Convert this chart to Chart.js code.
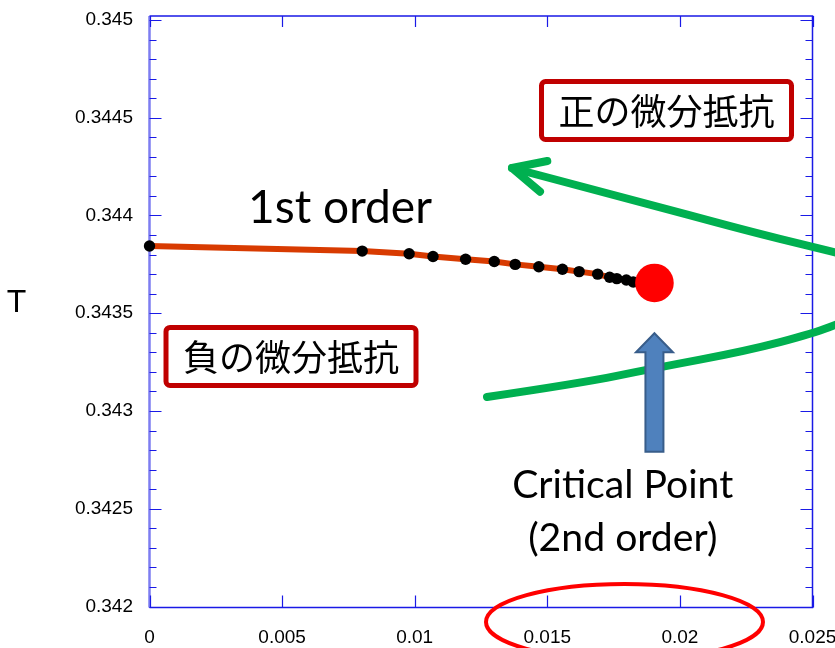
<!DOCTYPE html>
<html>
<head>
<meta charset="utf-8">
<script src="https://cdn.jsdelivr.net/npm/chart.js@4.4.1/dist/chart.umd.min.js"></script>
<style>
  html, body { margin: 0; padding: 0; background: #ffffff; }
  canvas { display: block; }
</style>
</head>
<body>
<canvas id="chart" width="835" height="648"></canvas>
<script>
// First-order transition branch: horizontal position and T of each measured point
const hValues = [0, 0.00802, 0.00979, 0.01069, 0.01192, 0.0130, 0.01379, 0.01468,
                 0.01557, 0.0162, 0.0169, 0.01735, 0.01762, 0.01798, 0.01824];
const tValues = [0.343844, 0.343818, 0.343804, 0.343790, 0.343776, 0.343765, 0.343750, 0.343738,
                 0.343725, 0.343713, 0.343700, 0.343684, 0.343677, 0.343670, 0.343660];

// Critical point (end of the first-order line, second-order transition)
const criticalH = [0.01904];
const criticalT = [0.343655];

// Axis ticks
const xTickValues = [0, 0.005, 0.01, 0.015, 0.02, 0.025];
const xTickLabels = ['0', '0.005', '0.01', '0.015', '0.02', '0.025'];
const yTickValues = [0.342, 0.3425, 0.343, 0.3435, 0.344, 0.3445, 0.345];
const yTickLabels = ['0.342', '0.3425', '0.343', '0.3435', '0.344', '0.3445', '0.345'];
const yMinorPerMajor = 5;

// Annotation anchors, in axis units (h, T)
const firstOrderLabel = { text: '1st order', at: [0.007183, 0.343960], width: 184 };
const criticalLabel = { lines: ['Critical Point', '(2nd order)'], h: 0.017845, baselines: [0.342553, 0.342285], width: 221 };
const negativeBox = { text: '負の微分抵抗', at: [0.005336, 0.343279] };
const positiveBox = { text: '正の微分抵抗', at: [0.019495, 0.344537] };
const lowerBranch = [[0.012726, 0.343072], [0.016233, 0.343142], [0.018997, 0.343218],
                     [0.022519, 0.343308], [0.025030, 0.343397], [0.026226, 0.343460]];
const upperBranch = [[0.013669, 0.344243], [0.018118, 0.344084], [0.022519, 0.343922],
                     [0.025019, 0.343839], [0.026226, 0.343798]];
const arrowWings = [[0.015000, 0.344279], [0.014725, 0.344122]];
const pointerArrowT = { tip: 0.343398, head: 0.343300, tail: 0.342792 };
const ellipseCenter = [0.017911, 0.341921];

const lineSeries = hValues.map((h, i) => ({ x: h, y: tValues[i] }))
  .concat([{ x: criticalH[0], y: criticalT[0] }]);
const markerSeries = hValues.map((h, i) => ({ x: h, y: tValues[i] }));
const criticalSeries = criticalH.map((h, i) => ({ x: h, y: criticalT[i] }));

const AXIS_BLUE = '#1a1ae6';
const TICK_FONT = { family: "'Liberation Sans', Arial, sans-serif", size: 19 };

// Box frame and inward tick marks on all four sides
const framePlugin = {
  id: 'frame',
  beforeDatasetsDraw(chart) {
    const { ctx, chartArea: { left, right, top, bottom } } = chart;
    const xs = chart.scales.x, ys = chart.scales.y;
    const frameTop = top - 4, frameBottom = bottom + 1;
    ctx.save();
    ctx.lineCap = 'butt';
    // frame: top, right, bottom
    ctx.strokeStyle = AXIS_BLUE;
    ctx.lineWidth = 1.5;
    ctx.beginPath();
    ctx.moveTo(left, frameTop); ctx.lineTo(right, frameTop);
    ctx.lineTo(right, frameBottom); ctx.lineTo(left, frameBottom);
    ctx.stroke();
    // left axis line
    ctx.strokeStyle = 'rgba(70,70,235,0.7)';
    ctx.lineWidth = 2.5;
    ctx.beginPath();
    ctx.moveTo(left, frameTop); ctx.lineTo(left, frameBottom);
    ctx.stroke();
    // y ticks (major + minor) on left and right axes
    ctx.strokeStyle = AXIS_BLUE;
    ctx.lineWidth = 1.2;
    const yMin = yTickValues[0];
    const yStep = (yTickValues[1] - yTickValues[0]) / yMinorPerMajor;
    const nMinor = (yTickValues.length - 1) * yMinorPerMajor;
    for (let k = 0; k <= nMinor; k++) {
      const py = Math.round(ys.getPixelForValue(yMin + k * yStep)) + 0.5;
      const len = k % yMinorPerMajor === 0 ? 12 : 7;
      ctx.beginPath();
      ctx.moveTo(left, py); ctx.lineTo(left + len, py);
      ctx.moveTo(right, py); ctx.lineTo(right - len, py);
      ctx.stroke();
    }
    // x ticks on bottom (pointing up) and top (pointing down)
    xTickValues.forEach(v => {
      const px = Math.round(xs.getPixelForValue(v)) + 0.5;
      ctx.beginPath();
      ctx.moveTo(px, frameBottom); ctx.lineTo(px, frameBottom - 12);
      ctx.moveTo(px, frameTop); ctx.lineTo(px, frameTop + 11);
      ctx.stroke();
    });
    // y axis title (upright)
    ctx.fillStyle = '#000';
    ctx.font = "32px 'Liberation Sans', Arial, sans-serif";
    ctx.textAlign = 'center';
    ctx.textBaseline = 'alphabetic';
    ctx.fillText('T', 16.5, (top + bottom) / 2 - 1);
    ctx.restore();
  }
};

function smoothPath(ctx, pts) {
  ctx.beginPath();
  ctx.moveTo(pts[0][0], pts[0][1]);
  for (let i = 1; i < pts.length - 1; i++) {
    const mx = (pts[i][0] + pts[i + 1][0]) / 2;
    const my = (pts[i][1] + pts[i + 1][1]) / 2;
    ctx.quadraticCurveTo(pts[i][0], pts[i][1], mx, my);
  }
  const last = pts[pts.length - 1];
  ctx.lineTo(last[0], last[1]);
}

function fittedFont(ctx, text, family, targetWidth) {
  ctx.font = `100px ${family}`;
  const w = ctx.measureText(text).width;
  return 100 * targetWidth / w;
}

function labelBox(ctx, cx, cy, text) {
  const w = 250, h = 58;
  ctx.save();
  ctx.beginPath();
  ctx.roundRect(cx - w / 2, cy - h / 2, w, h, 4);
  ctx.fillStyle = '#ffffff';
  ctx.fill();
  ctx.strokeStyle = '#c00000';
  ctx.lineWidth = 5;
  ctx.stroke();
  ctx.fillStyle = '#000';
  ctx.font = "36px 'Noto Sans CJK JP', sans-serif";
  ctx.textAlign = 'center';
  ctx.textBaseline = 'middle';
  ctx.fillText(text, cx, cy + 1);
  ctx.restore();
}

// Text labels, boxes and arrows placed through the axis scales
const notesPlugin = {
  id: 'notes',
  afterDraw(chart) {
    const { ctx } = chart;
    const xs = chart.scales.x, ys = chart.scales.y;
    const P = p => [xs.getPixelForValue(p[0]), ys.getPixelForValue(p[1])];
    const latin = "Lato, 'Open Sans', sans-serif";
    ctx.save();

    // "1st order"
    let size = fittedFont(ctx, firstOrderLabel.text, latin, firstOrderLabel.width);
    ctx.font = `${size}px ${latin}`;
    ctx.fillStyle = '#000';
    ctx.textAlign = 'center';
    ctx.textBaseline = 'alphabetic';
    const fo = P(firstOrderLabel.at);
    ctx.fillText(firstOrderLabel.text, fo[0], fo[1]);

    // "Critical Point (2nd order)"
    size = fittedFont(ctx, criticalLabel.lines[0], latin, criticalLabel.width);
    ctx.font = `${size}px ${latin}`;
    criticalLabel.lines.forEach((line, i) => {
      ctx.fillText(line, xs.getPixelForValue(criticalLabel.h), ys.getPixelForValue(criticalLabel.baselines[i]));
    });

    // boxed labels
    labelBox(ctx, ...P(negativeBox.at), negativeBox.text);
    labelBox(ctx, ...P(positiveBox.at), positiveBox.text);

    // green curved arrow
    ctx.strokeStyle = '#00b050';
    ctx.lineWidth = 8;
    ctx.lineCap = 'round';
    ctx.lineJoin = 'round';
    smoothPath(ctx, lowerBranch.map(P));
    ctx.stroke();
    smoothPath(ctx, upperBranch.map(P));
    ctx.stroke();
    const tip = P(upperBranch[0]);
    const w1 = P(arrowWings[0]), w2 = P(arrowWings[1]);
    ctx.beginPath();
    ctx.moveTo(w1[0], w1[1]); ctx.lineTo(tip[0], tip[1]); ctx.lineTo(w2[0], w2[1]);
    ctx.stroke();

    // blue block arrow pointing at the critical point
    const ax = xs.getPixelForValue(criticalH[0]);
    const yTip = ys.getPixelForValue(pointerArrowT.tip);
    const yHead = ys.getPixelForValue(pointerArrowT.head);
    const yTail = ys.getPixelForValue(pointerArrowT.tail);
    const headHalf = 18.5, shaftHalf = 9;
    ctx.beginPath();
    ctx.moveTo(ax, yTip);
    ctx.lineTo(ax + headHalf, yHead);
    ctx.lineTo(ax + shaftHalf, yHead);
    ctx.lineTo(ax + shaftHalf, yTail);
    ctx.lineTo(ax - shaftHalf, yTail);
    ctx.lineTo(ax - shaftHalf, yHead);
    ctx.lineTo(ax - headHalf, yHead);
    ctx.closePath();
    ctx.fillStyle = '#4f81bd';
    ctx.fill();
    ctx.strokeStyle = '#385d8a';
    ctx.lineWidth = 2;
    ctx.lineJoin = 'miter';
    ctx.stroke();

    // red ellipse around the lower axis labels
    const ec = P(ellipseCenter);
    ctx.beginPath();
    ctx.ellipse(ec[0], ec[1], 138.5, 38, 0, 0, Math.PI * 2);
    ctx.strokeStyle = '#ff0000';
    ctx.lineWidth = 4;
    ctx.stroke();

    ctx.restore();
  }
};

new Chart(document.getElementById('chart'), {
  type: 'scatter',
  data: {
    datasets: [
      {
        label: 'Critical Point',
        data: criticalSeries,
        showLine: false,
        pointRadius: 19.3,
        pointBackgroundColor: '#ff0000',
        pointBorderColor: '#ff0000',
        pointBorderWidth: 0,
        order: 0
      },
      {
        label: '1st order points',
        data: markerSeries,
        showLine: false,
        pointRadius: 5.7,
        pointBackgroundColor: '#000000',
        pointBorderColor: '#000000',
        pointBorderWidth: 0,
        clip: false,
        order: 1
      },
      {
        label: '1st order',
        data: lineSeries,
        showLine: true,
        borderColor: '#d83b01',
        borderWidth: 6,
        pointRadius: 0,
        tension: 0,
        order: 2
      }
    ]
  },
  options: {
    responsive: false,
    animation: false,
    devicePixelRatio: 1,
    events: [],
    layout: { autoPadding: false, padding: { left: 0, right: 22.5, top: 20, bottom: 0 } },
    plugins: { legend: { display: false }, tooltip: { enabled: false } },
    scales: {
      x: {
        type: 'linear',
        min: 0,
        max: 0.025,
        grid: { display: false, drawTicks: false },
        border: { display: false },
        afterBuildTicks: s => { s.ticks = xTickValues.map(v => ({ value: v })); },
        afterFit: s => { s.height = 41.5; s.paddingLeft = 0; s.paddingRight = 0; },
        ticks: {
          callback: (v, i) => xTickLabels[i],
          font: TICK_FONT,
          color: '#000',
          padding: 20,
          maxRotation: 0,
          autoSkip: false
        }
      },
      y: {
        type: 'linear',
        min: 0.342,
        max: 0.345,
        grid: { display: false, drawTicks: false },
        border: { display: false },
        afterBuildTicks: s => { s.ticks = yTickValues.map(v => ({ value: v })); },
        afterFit: s => { s.width = 149.5; s.paddingTop = 0; s.paddingBottom = 0; },
        ticks: {
          callback: (v, i) => yTickLabels[i],
          font: TICK_FONT,
          color: '#000',
          padding: 16.5,
          autoSkip: false
        }
      }
    }
  },
  plugins: [framePlugin, notesPlugin]
});
</script>
</body>
</html>
